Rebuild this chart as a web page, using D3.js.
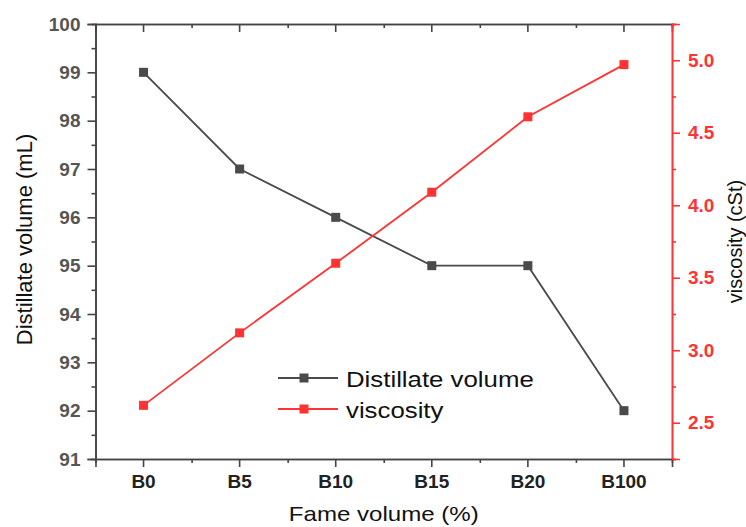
<!DOCTYPE html>
<html><head><meta charset="utf-8">
<script src="https://cdn.jsdelivr.net/npm/d3@7"></script>
<style>
body{margin:0;background:#fff;}
svg{display:block;font-family:"Liberation Sans",Arial,sans-serif;}
</style></head>
<body><svg id="c" width="746" height="527"></svg>
<script>
const categories = ["B0","B5","B10","B15","B20","B100"];
const distillate = [99, 97, 96, 95, 95, 92];
const viscosity = [2.62, 3.12, 3.60, 4.09, 4.61, 4.97];
const leftTicks = [91,92,93,94,95,96,97,98,99,100];
const rightTicks = [2.5,3.0,3.5,4.0,4.5,5.0];
const seriesNames = ["Distillate volume","viscosity"];

const m={l:95.5,r:672,t:24,b:459};
const gray="#4a4a4a", red="#ff3333", axisGray="#444";
const FF="Liberation Sans, Arial, sans-serif";
const svg=d3.select("#c");

const x=d3.scaleBand().domain(categories).range([m.l,m.r]);
const cx=d=>x(d)+x.bandwidth()/2;
const yL=d3.scaleLinear().domain([91,100]).range([m.b,m.t]);
const yR=d3.scaleLinear().domain([2.25,5.25]).range([m.b,m.t]);
const xLin=d3.scaleLinear().domain([m.l,m.r]).range([m.l,m.r]);

const minorL=d3.range(91.5,100,1);
const minorR=[2.25,2.75,3.25,3.75,4.25,4.75,5.25];
const minorX=categories.slice(0,-1).map(c=>x(c)+x.step());

function style(g,col){
  g.selectAll("path").attr("stroke",col).attr("stroke-width",1.6);
  g.selectAll("line").attr("stroke",col).attr("stroke-width",1.6);
}
// minor ticks
style(svg.append("g").attr("transform",`translate(${m.l},0)`).call(d3.axisLeft(yL).tickValues(minorL).tickSize(4).tickFormat("")),axisGray);
style(svg.append("g").attr("transform",`translate(${m.r},0)`).call(d3.axisRight(yR).tickValues(minorR).tickSize(4).tickFormat("")),red);
style(svg.append("g").attr("transform",`translate(0,${m.b})`).call(d3.axisBottom(xLin).tickValues(minorX).tickSize(4).tickFormat("")),axisGray);
style(svg.append("g").attr("transform",`translate(0,${m.t})`).call(d3.axisTop(xLin).tickValues(minorX).tickSize(-4).tickFormat("")),axisGray);

// major axes
const gL=svg.append("g").attr("transform",`translate(${m.l},0)`).call(d3.axisLeft(yL).tickValues(leftTicks).tickSize(8).tickPadding(7).tickFormat(d3.format("d")));
style(gL,axisGray);
gL.selectAll("text").attr("font-size",19).attr("font-weight","bold").attr("fill","#555").attr("font-family",FF);

const gB=svg.append("g").attr("transform",`translate(0,${m.b})`).call(d3.axisBottom(x).tickSize(8).tickPadding(8));
style(gB,axisGray);
gB.selectAll("text").attr("font-size",19).attr("font-weight","bold").attr("fill","#222").attr("font-family",FF);

const gT=svg.append("g").attr("transform",`translate(0,${m.t})`).call(d3.axisTop(x).tickSize(-8).tickFormat(""));
style(gT,axisGray);

const gR=svg.append("g").attr("transform",`translate(${m.r},0)`).call(d3.axisRight(yR).tickValues(rightTicks).tickSize(8).tickPadding(8).tickFormat(d3.format(".1f")));
style(gR,red);
gR.selectAll("text").attr("font-size",19).attr("font-weight","bold").attr("fill",red).attr("font-family",FF);

// titles
svg.append("text").attr("transform",`translate(31.5,${(m.t+m.b)/2-2}) rotate(-90)`).attr("text-anchor","middle").attr("font-size",22).attr("fill","#111").text("Distillate volume (mL)");
svg.append("text").attr("transform",`translate(742,${(m.t+m.b)/2}) rotate(-90)`).attr("text-anchor","middle").attr("font-size",20).attr("fill","#111").text("viscosity (cSt)");
svg.append("text").attr("transform",`translate(${(m.l+m.r)/2},521) scale(1.147,1)`).attr("text-anchor","middle").attr("font-size",21).attr("fill","#111").text("Fame volume (%)");

// series
const series=[{vals:distillate,y:yL,col:gray},{vals:viscosity,y:yR,col:red}];
series.forEach(s=>{
  const pts=categories.map((c,i)=>[cx(c),s.y(s.vals[i])]);
  svg.append("path").attr("d",d3.line()(pts)).attr("fill","none").attr("stroke",s.col).attr("stroke-width",1.8);
  svg.append("g").selectAll("rect").data(pts).join("rect")
    .attr("x",d=>d[0]-4.5).attr("y",d=>d[1]-4.5).attr("width",9).attr("height",9).attr("fill",s.col);
});

// legend
const lg=svg.append("g");
[gray,red].forEach((col,i)=>{
  const yy=378+i*31;
  lg.append("line").attr("x1",278).attr("x2",338).attr("y1",yy).attr("y2",yy).attr("stroke",col).attr("stroke-width",1.8);
  lg.append("rect").attr("x",304-4.5).attr("y",yy-4.5).attr("width",9).attr("height",9).attr("fill",col);
  lg.append("text").attr("transform",`translate(346,${yy+8.5}) scale(1.2,1)`).attr("font-size",21.5).attr("fill","#111").text(seriesNames[i]);
});
</script></body></html>
